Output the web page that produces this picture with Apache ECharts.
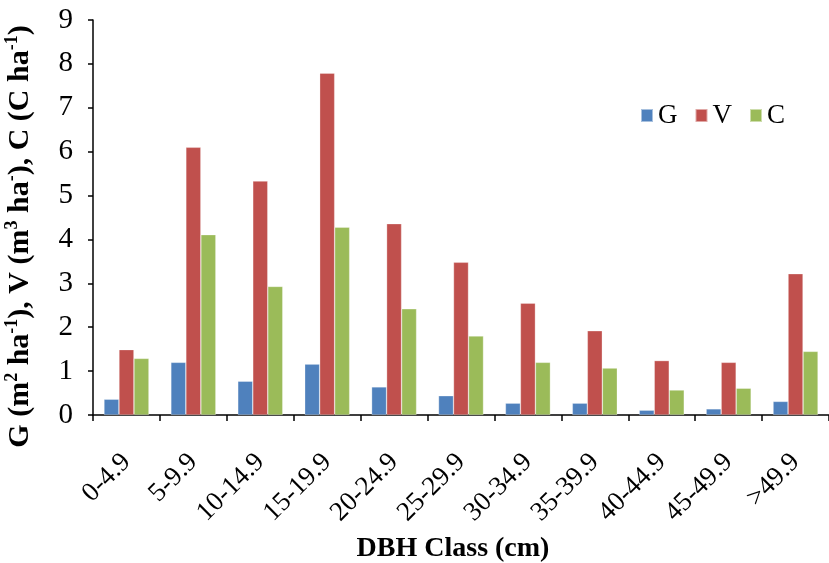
<!DOCTYPE html>
<html><head><meta charset="utf-8">
<script src="https://cdn.jsdelivr.net/npm/echarts@6/dist/echarts.min.js"></script>
<style>html,body{margin:0;padding:0;background:#fff}#c{width:829px;height:563px}</style>
</head><body><div id="c"></div>
<script>
const categories = ['0-4.9','5-9.9','10-14.9','15-19.9','20-24.9','25-29.9','30-34.9','35-39.9','40-44.9','45-49.9','>49.9'];
const G = [0.36,1.20,0.77,1.16,0.64,0.44,0.27,0.27,0.11,0.14,0.31];
const V = [1.49,6.10,5.33,7.79,4.36,3.48,2.55,1.92,1.24,1.20,3.22];
const C = [1.29,4.11,2.93,4.28,2.42,1.80,1.20,1.07,0.57,0.61,1.45];
const yTicks = {min:0,max:9,interval:1};
const FONT = 'Liberation Serif, Times New Roman, serif';
const chart = echarts.init(document.getElementById('c'));
const mk = (name, data, color) => ({
  name, type:'bar', data, barWidth:15, barGap:'0%',
  itemStyle:{color, borderColor:'rgba(255,255,255,0.5)', borderWidth:0.6}
});
chart.setOption({
  animation:false,
  backgroundColor:'#fff',
  legend:{
    data:['G','V','C'], left:635, top:97, itemWidth:12, itemHeight:13, itemGap:17,
    icon:'rect', textStyle:{fontFamily:FONT, fontSize:27, color:'#000'}
  },
  grid:{left:93, right:0, top:20, bottom:148, containLabel:false, outerBoundsMode:'none'},
  xAxis:{
    type:'category', data:categories,
    axisLine:{lineStyle:{color:'#000', width:1.5}},
    axisTick:{show:true, length:6, lineStyle:{color:'#000', width:1.5}},
    axisLabel:{rotate:45, color:'#000', fontFamily:FONT, fontSize:27, margin:43, interval:0},
    name:'DBH Class (cm)', nameLocation:'middle', nameGap:120,
    nameTextStyle:{fontFamily:FONT, fontSize:28, fontWeight:'bold', color:'#000', padding:[0,16,0,0]}
  },
  yAxis:{
    type:'value', min:yTicks.min, max:yTicks.max, interval:yTicks.interval,
    splitLine:{show:false},
    axisLine:{show:true, lineStyle:{color:'#000', width:1.5}},
    axisTick:{show:true, length:5, lineStyle:{color:'#000', width:1.5}},
    axisLabel:{color:'#000', fontFamily:FONT, fontSize:29, margin:20},
    name:'{b|G (m}{s|2}{b| ha}{s|-1}{b|), V (m}{s|3}{b| ha}{s|-}{b|), C (C ha}{s|-1}{b|)}',
    nameLocation:'middle', nameGap:58, nameRotate:90,
    nameTextStyle:{
      padding:[0,38,0,0],
      rich:{
        b:{fontFamily:FONT, fontSize:30, fontWeight:'bold', color:'#000', lineHeight:32, verticalAlign:'bottom'},
        s:{fontFamily:FONT, fontSize:18, fontWeight:'bold', color:'#000', lineHeight:32, verticalAlign:'top'}
      }
    }
  },
  series:[mk('G',G,'#4F81BD'), mk('V',V,'#C0504D'), mk('C',C,'#9BBB59')]
});
</script></body></html>
